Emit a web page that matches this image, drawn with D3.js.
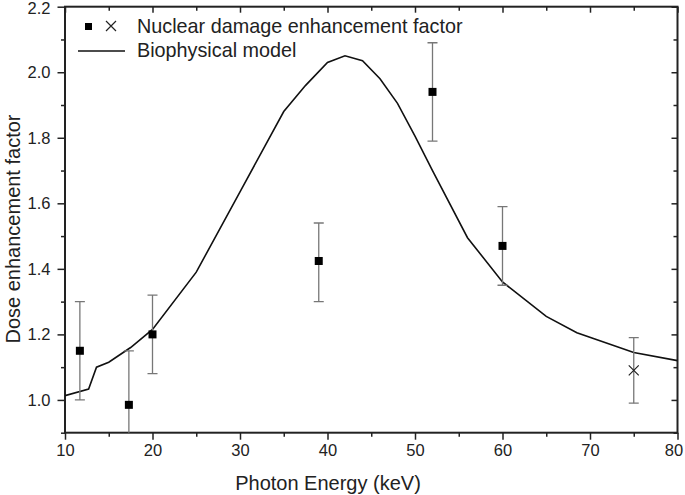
<!DOCTYPE html>
<html><head><meta charset="utf-8">
<script src="https://cdn.jsdelivr.net/npm/d3@7"></script>
<style>body{margin:0;background:#fff}svg{display:block}text{font-family:"Liberation Sans",Arial,sans-serif;fill:#222}</style>
</head><body><svg id="c" width="685" height="495"></svg>
<script>
const modelE   = [10,12.7,13.6,15,17.5,20,25,30,35,37.5,40,42,44,46,48,50,52,56,60,65,68.5,75,80];
const modelDEF = [1.013,1.033,1.10,1.115,1.16,1.215,1.39,1.635,1.88,1.96,2.03,2.05,2.035,1.98,1.905,1.805,1.70,1.495,1.36,1.255,1.205,1.145,1.12];
const expE     = [11.7,17.3,20,39,52,60];
const expVal   = [1.15,0.985,1.20,1.424,1.94,1.47];
const expLo    = [1.00,0.80,1.08,1.30,1.79,1.35];
const expHi    = [1.30,1.15,1.32,1.54,2.09,1.59];
const crossE = [75], crossVal = [1.09], crossLo = [0.99], crossHi = [1.19];
const xTicks = [10,20,30,40,50,60,70,80];
const yTicks = [1.0,1.2,1.4,1.6,1.8,2.0,2.2];

const svg = d3.select("#c");
const L=65,R=677.5,T=6.7,B=432.7;
const x = d3.scaleLinear().domain([10,80]).range([L,R]);
const y = d3.scaleLinear().domain([0.9,2.2]).range([B,T]);

const g = svg.append("g");
svg.append("clipPath").attr("id","clp").append("rect").attr("x",L).attr("y",T).attr("width",R-L).attr("height",B-T);

const ax = (sel, axis) => { sel.call(axis); sel.select(".domain").remove(); sel.selectAll("line").attr("stroke","#222").attr("stroke-width",1.5); };
const minorX = d3.range(15,80,10), minorY = d3.range(0.9,2.21,0.2).map(v=>+v.toFixed(2));
const xl = g.append("g").attr("transform",`translate(0,${B})`).call(s=>ax(s,d3.axisBottom(x).tickValues(xTicks).tickSize(7).tickPadding(5).tickFormat(d3.format("d"))));
xl.selectAll("text").attr("font-size",16.5);
xl.selectAll(".tick").filter(d=>d===80).select("text").attr("dx","-4");
g.append("g").attr("transform",`translate(0,${B})`).call(s=>ax(s,d3.axisBottom(x).tickValues(minorX).tickSize(4).tickFormat("")));
g.append("g").attr("transform",`translate(0,${T})`).call(s=>ax(s,d3.axisBottom(x).tickValues(xTicks).tickSize(6).tickFormat("")));
g.append("g").attr("transform",`translate(0,${T})`).call(s=>ax(s,d3.axisBottom(x).tickValues(minorX).tickSize(4).tickFormat("")));
const yl = g.append("g").attr("transform",`translate(${L},0)`).call(s=>ax(s,d3.axisLeft(y).tickValues(yTicks).tickSize(7.5).tickPadding(7).tickFormat(d3.format(".1f"))));
yl.selectAll("text").attr("font-size",16.5);
yl.selectAll(".tick").filter(d=>d===2.2).select("text").attr("dy","0.42em");
g.append("g").attr("transform",`translate(${L},0)`).call(s=>ax(s,d3.axisLeft(y).tickValues(minorY).tickSize(4).tickFormat("")));
g.append("g").attr("transform",`translate(${R},0)`).call(s=>ax(s,d3.axisRight(y).tickValues(yTicks).tickSize(-6).tickFormat("")));
g.append("g").attr("transform",`translate(${R},0)`).call(s=>ax(s,d3.axisRight(y).tickValues(minorY).tickSize(-4).tickFormat("")));
g.append("rect").attr("x",L).attr("y",T).attr("width",R-L).attr("height",B-T).attr("fill","none").attr("stroke","#222").attr("stroke-width",2);

svg.append("text").attr("x",328).attr("y",490).attr("text-anchor","middle").attr("font-size",20).text("Photon Energy (keV)");
svg.append("text").attr("transform",`translate(20,229) rotate(-90)`).attr("text-anchor","middle").attr("font-size",20).text("Dose enhancement factor");

const line = d3.line().x(d=>x(d[0])).y(d=>y(d[1]));
const plot = svg.append("g").attr("clip-path","url(#clp)");
plot.append("path").datum(modelE.map((e,i)=>[e,modelDEF[i]])).attr("d",line).attr("fill","none").attr("stroke","#111").attr("stroke-width",1.6);

function errbars(E,Lo,Hi){
  E.forEach((e,i)=>{
    const gg = plot.append("g").attr("stroke","#777").attr("stroke-width",1.3);
    gg.append("line").attr("x1",x(e)).attr("x2",x(e)).attr("y1",y(Lo[i])).attr("y2",y(Hi[i]));
    [Lo[i],Hi[i]].forEach(v=>gg.append("line").attr("x1",x(e)-5).attr("x2",x(e)+5).attr("y1",y(v)).attr("y2",y(v)));
  });
}
errbars(expE,expLo,expHi);
errbars(crossE,crossLo,crossHi);
plot.selectAll("rect.sq").data(expE).join("rect").attr("class","sq")
  .attr("x",(d)=>x(d)-4).attr("y",(d,i)=>y(expVal[i])-4).attr("width",8).attr("height",8).attr("fill","#000");
crossE.forEach((e,i)=>{
  const cx=x(e), cy=y(crossVal[i]), s=5;
  plot.append("path").attr("d",`M${cx-s},${cy-s}L${cx+s},${cy+s}M${cx-s},${cy+s}L${cx+s},${cy-s}`).attr("stroke","#222").attr("stroke-width",1.2);
});

svg.append("rect").attr("x",85).attr("y",23).attr("width",7).attr("height",7).attr("fill","#000");
svg.append("path").attr("d","M106,21L116,31M106,31L116,21").attr("stroke","#222").attr("stroke-width",1.2);
svg.append("text").attr("x",137).attr("y",33).attr("font-size",19.8).text("Nuclear damage enhancement factor");
svg.append("line").attr("x1",78).attr("x2",125).attr("y1",51).attr("y2",51).attr("stroke","#111").attr("stroke-width",1.6);
svg.append("text").attr("x",137).attr("y",57).attr("font-size",19.8).text("Biophysical model");
</script></body></html>
